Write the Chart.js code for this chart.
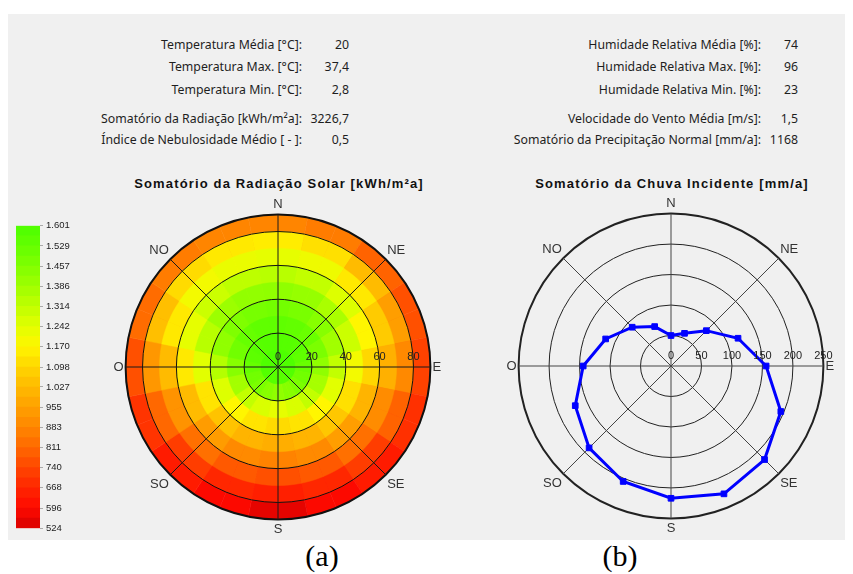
<!DOCTYPE html>
<html>
<head>
<meta charset="utf-8">
<script src="https://cdn.jsdelivr.net/npm/chart.js@4.4.0/dist/chart.umd.min.js"></script>
<style>
  body { margin: 0; width: 853px; height: 574px; position: relative; overflow: hidden; background: #fff; font-family: "Noto Sans", sans-serif; }
  #panel { position: absolute; left: 8px; top: 14px; width: 837px; height: 526px; background: #f0f0f0; }
  .t { position: absolute; font-size: 12.3px; line-height: 16px; color: #1e1e1e; white-space: nowrap; text-align: right; }
  .title { position: absolute; width: 400px; text-align: center; font: bold 13px "Liberation Sans", sans-serif; letter-spacing: 1.15px; color: #111; }
  .cap { position: absolute; width: 80px; text-align: center; font: 30px/30px "Liberation Serif", serif; color: #000; }
  canvas { position: absolute; }
</style>
</head>
<body>
<div id="panel"></div>

<div class="t" style="left:0;width:302px;top:37px">Temperatura Média [°C]:</div>
<div class="t" style="left:0;width:302px;top:59px">Temperatura Max. [°C]:</div>
<div class="t" style="left:0;width:302px;top:82px">Temperatura Min. [°C]:</div>
<div class="t" style="left:0;width:302px;top:111px">Somatório da Radiação [kWh/m²a]:</div>
<div class="t" style="left:0;width:302px;top:132px">Índice de Nebulosidade Médio [ - ]:</div>
<div class="t" style="left:300px;width:49px;top:37px">20</div>
<div class="t" style="left:300px;width:49px;top:59px">37,4</div>
<div class="t" style="left:300px;width:49px;top:82px">2,8</div>
<div class="t" style="left:300px;width:49px;top:111px">3226,7</div>
<div class="t" style="left:300px;width:49px;top:132px">0,5</div>

<div class="t" style="left:400px;width:361px;top:37px">Humidade Relativa Média [%]:</div>
<div class="t" style="left:400px;width:361px;top:59px">Humidade Relativa Max. [%]:</div>
<div class="t" style="left:400px;width:361px;top:82px">Humidade Relativa Min. [%]:</div>
<div class="t" style="left:400px;width:361px;top:111px">Velocidade do Vento Média [m/s]:</div>
<div class="t" style="left:400px;width:361px;top:132px">Somatório da Precipitação Normal [mm/a]:</div>
<div class="t" style="left:760px;width:38px;top:37px">74</div>
<div class="t" style="left:760px;width:38px;top:59px">96</div>
<div class="t" style="left:760px;width:38px;top:82px">23</div>
<div class="t" style="left:760px;width:38px;top:111px">1,5</div>
<div class="t" style="left:760px;width:38px;top:132px">1168</div>

<div class="title" style="left:79px;top:176px">Somatório da Radiação Solar [kWh/m²a]</div>
<div class="title" style="left:472px;top:176px">Somatório da Chuva Incidente [mm/a]</div>

<canvas id="scaleBar" width="58" height="320" style="left:16px;top:217px"></canvas>
<canvas id="radChart" width="340" height="340" style="left:108px;top:198px"></canvas>
<canvas id="rainChart" width="340" height="340" style="left:501px;top:197px"></canvas>

<div class="cap" style="left:282px;top:541px">(a)</div>
<div class="cap" style="left:580px;top:541px">(b)</div>

<script>
// directions, clockwise from north
const compass8 = ['N', 'NE', 'E', 'SE', 'S', 'SO', 'O', 'NO'];
const compass16 = ['N', 'NNE', 'NE', 'ENE', 'E', 'ESE', 'SE', 'SSE', 'S', 'SSO', 'SO', 'OSO', 'O', 'ONO', 'NO', 'NNO'];

// solar radiation, one array per zenith ring (10 deg each), values per 16 sectors from N clockwise
const zenithEdges = [0, 10, 20, 30, 40, 50, 60, 70, 80, 90];
const radZen00 = [1598, 1598, 1595, 1592, 1588, 1582, 1578, 1572, 1570, 1572, 1578, 1582, 1588, 1592, 1595, 1598];
const radZen10 = [1575, 1570, 1562, 1545, 1520, 1495, 1470, 1440, 1420, 1440, 1470, 1495, 1525, 1550, 1565, 1572];
const radZen20 = [1545, 1535, 1515, 1470, 1420, 1370, 1310, 1260, 1230, 1260, 1310, 1375, 1440, 1495, 1525, 1540];
const radZen30 = [1490, 1475, 1440, 1380, 1310, 1240, 1170, 1130, 1110, 1130, 1170, 1250, 1340, 1420, 1460, 1480];
const radZen40 = [1420, 1405, 1360, 1290, 1200, 1120, 1060, 1010, 995, 1010, 1050, 1130, 1240, 1330, 1390, 1415];
const radZen50 = [1330, 1310, 1250, 1170, 1100, 1010, 950, 895, 875, 895, 945, 1030, 1140, 1230, 1290, 1320];
const radZen60 = [1230, 1210, 1140, 1070, 1000, 900, 830, 780, 760, 780, 830, 920, 1030, 1140, 1200, 1220];
const radZen70 = [1150, 1120, 1030, 950, 890, 800, 720, 670, 650, 670, 720, 810, 930, 1040, 1110, 1140];
const radZen80 = [880, 860, 800, 760, 730, 690, 640, 590, 550, 590, 640, 700, 760, 820, 860, 880];
const radRings = [radZen00, radZen10, radZen20, radZen30, radZen40, radZen50, radZen60, radZen70, radZen80];
const radTicks = [0, 20, 40, 60, 80];

// colour scale
const legendTicks = [524, 596, 668, 740, 811, 883, 955, 1027, 1098, 1170, 1242, 1314, 1386, 1457, 1529, 1601];
const scaleColors = [
  [215, 0, 0], [255, 10, 0], [255, 38, 0], [255, 70, 0], [255, 104, 0], [255, 134, 0], [255, 160, 0], [255, 186, 0],
  [255, 214, 0], [255, 246, 0], [225, 255, 0], [192, 255, 0], [158, 255, 0], [128, 255, 0], [100, 255, 0], [76, 255, 0]
];

// rain, 16 directions from N clockwise
const rainValues = [50, 58, 82, 119, 156, 195, 217, 227, 217, 205, 190, 170, 144, 116, 90, 70];
const rainTicks = [0, 50, 100, 150, 200, 250];

function colorFor(v) {
  const t = legendTicks;
  let i = 1;
  while (i < t.length - 1 && v > t[i]) i++;
  let f = (v - t[i - 1]) / (t[i] - t[i - 1]);
  f = Math.max(0, Math.min(1, f));
  const a = scaleColors[i - 1], b = scaleColors[i];
  return 'rgb(' + [0, 1, 2].map(k => Math.round(a[k] + (b[k] - a[k]) * f)).join(',') + ')';
}

function thousands(v) {
  return v >= 1000 ? Math.floor(v / 1000) + '.' + String(v % 1000).padStart(3, '0') : String(v);
}

// tick numbers written along the east axis
const polarTicks = {
  id: 'polarTicks',
  afterDraw(chart, args, opts) {
    const s = chart.scales.r;
    const ctx = chart.ctx;
    ctx.save();
    ctx.font = '11px "Liberation Sans"';
    ctx.fillStyle = '#222';
    ctx.textAlign = 'center';
    ctx.textBaseline = 'middle';
    opts.values.forEach(v => {
      ctx.fillText(String(v), s.xCenter + s.getDistanceFromCenterForValue(v), s.yCenter - 10);
    });
    ctx.restore();
  }
};

const labelFont = { family: 'Liberation Sans', size: 13 };

// colour bar
const bandEdges = [];
legendTicks.forEach((t, i) => {
  if (i) bandEdges.push((legendTicks[i - 1] + t) / 2);
  bandEdges.push(t);
});
new Chart(document.getElementById('scaleBar'), {
  type: 'bar',
  data: {
    labels: [''],
    datasets: bandEdges.slice(1).map((hi, i) => ({
      data: [[bandEdges[i], hi]],
      backgroundColor: colorFor((bandEdges[i] + hi) / 2),
      grouped: false,
      barPercentage: 1,
      categoryPercentage: 1,
      borderWidth: 0
    }))
  },
  options: {
    responsive: false,
    animation: false,
    plugins: { legend: { display: false }, tooltip: { enabled: false } },
    scales: {
      x: { display: false },
      y: {
        position: 'right',
        min: 524,
        max: 1601,
        afterBuildTicks: s => { s.ticks = legendTicks.map(v => ({ value: v })); },
        afterFit: s => { s.width = 34; },
        border: { display: false },
        grid: { drawOnChartArea: false, tickLength: 3, color: '#aaa' },
        ticks: { autoSkip: false, padding: 3, color: '#222', font: { family: 'Liberation Sans', size: 9.5 }, callback: v => thousands(v) }
      }
    }
  }
});

// solar radiation map: each sector split in two half-sectors so the spokes fall on the compass points
const halfLabels = [];
for (let j = 0; j < 32; j++) halfLabels.push(j % 4 === 0 ? compass8[j / 4] : '');

new Chart(document.getElementById('radChart'), {
  type: 'polarArea',
  data: {
    labels: halfLabels,
    datasets: radRings.map((ring, k) => {
      const cols = halfLabels.map((_, j) => colorFor(ring[Math.ceil(j / 2) % 16]));
      return {
        data: halfLabels.map(() => zenithEdges[k + 1]),
        backgroundColor: cols,
        borderColor: cols,
        borderWidth: 0.5
      };
    })
  },
  options: {
    responsive: false,
    animation: false,
    plugins: { legend: { display: false }, tooltip: { enabled: false }, polarTicks: { values: radTicks } },
    scales: {
      r: {
        min: 0,
        max: 90,
        startAngle: 0,
        afterBuildTicks: s => { s.ticks = radTicks.concat([90]).map(v => ({ value: v })); },
        ticks: { display: false },
        grid: { circular: true, z: 1, color: '#111', lineWidth: c => (c.tick && c.tick.value === 90 ? 2 : 1) },
        angleLines: { display: true, color: '#1a1a1a', lineWidth: c => (c.index % 4 === 0 ? 1 : 0) },
        pointLabels: { display: true, padding: 2, color: '#333', font: labelFont }
      }
    }
  },
  plugins: [polarTicks]
});

// rain
new Chart(document.getElementById('rainChart'), {
  type: 'radar',
  data: {
    labels: compass16,
    datasets: [{
      data: rainValues,
      borderColor: '#0000ff',
      borderWidth: 3,
      fill: false,
      tension: 0,
      pointStyle: 'rect',
      pointRadius: 4,
      pointBorderWidth: 1,
      pointBackgroundColor: '#0000ff',
      pointBorderColor: '#0000ff'
    }]
  },
  options: {
    responsive: false,
    animation: false,
    plugins: { legend: { display: false }, tooltip: { enabled: false }, polarTicks: { values: rainTicks } },
    scales: {
      r: {
        min: 0,
        max: 250,
        afterBuildTicks: s => { s.ticks = rainTicks.map(v => ({ value: v })); },
        ticks: { display: false },
        grid: { circular: true, color: '#222', lineWidth: c => (c.tick && c.tick.value === 250 ? 2 : 1) },
        angleLines: { display: true, color: '#444', lineWidth: c => (c.index % 2 ? 0 : 1) },
        pointLabels: { display: true, padding: 2, color: '#333', font: labelFont, callback: (l, i) => (i % 2 ? '' : l) }
      }
    }
  },
  plugins: [polarTicks]
});
</script>
</body>
</html>
